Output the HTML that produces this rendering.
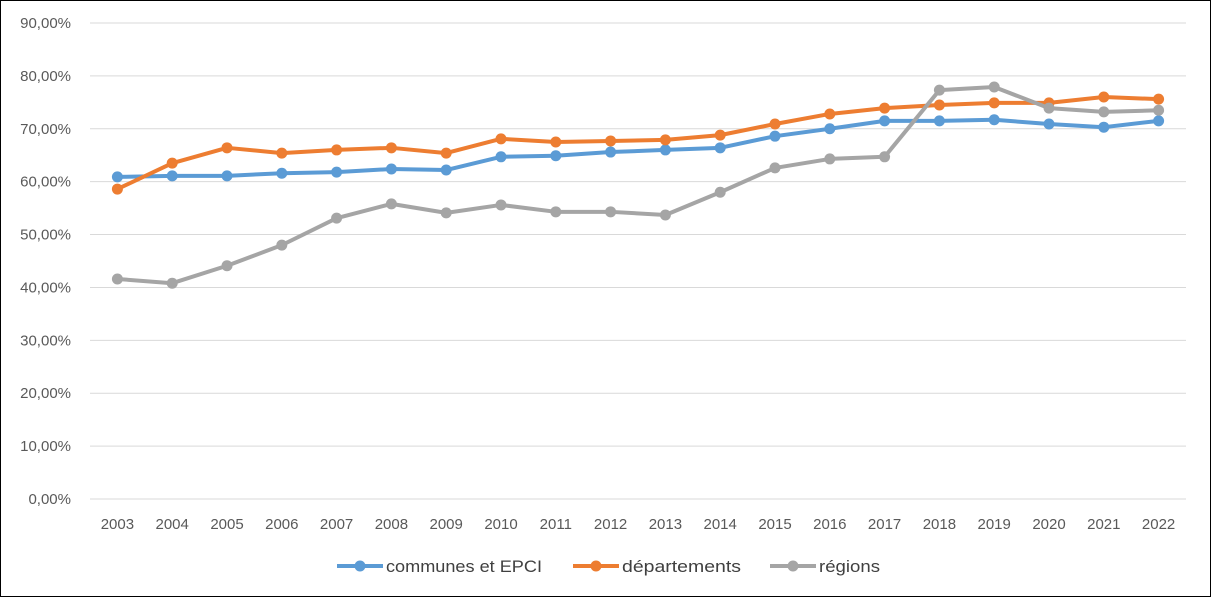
<!DOCTYPE html>
<html><head><meta charset="utf-8"><style>
body{margin:0;background:#fff;font-family:"Liberation Sans",sans-serif}
#wrap{position:relative;width:1211px;height:597px;box-sizing:border-box;border:1px solid #000}
</style></head><body>
<div id="wrap">
<svg id="chart" width="1209" height="595"></svg>
</div>
<script>
const categories=["2003","2004","2005","2006","2007","2008","2009","2010","2011","2012","2013","2014","2015","2016","2017","2018","2019","2020","2021","2022"];
const communes=[60.9,61.1,61.1,61.6,61.8,62.4,62.2,64.7,64.9,65.6,66.0,66.4,68.6,70.0,71.5,71.5,71.7,70.9,70.3,71.5];
const departements=[58.6,63.5,66.4,65.4,66.0,66.4,65.4,68.1,67.5,67.7,67.9,68.8,70.9,72.8,73.9,74.5,74.9,74.9,76.0,75.6];
const regions=[41.6,40.8,44.1,48.0,53.1,55.8,54.1,55.6,54.3,54.3,53.7,58.0,62.6,64.3,64.7,77.3,77.9,73.9,73.2,73.5];
const yTicks=[0,10,20,30,40,50,60,70,80,90];
const seriesNames=["communes et EPCI","départements","régions"];
const colors=["#5B9BD5","#ED7D31","#A5A5A5"];
const NS="http://www.w3.org/2000/svg";
const svg=document.getElementById('chart');
const x0=89,x1=1185,yTop=22,yBot=498;
const xs=i=>x0+(x1-x0)/categories.length*(i+0.5);
const ys=v=>yBot-(v/90)*(yBot-yTop);
function mk(t,a,p){const e=document.createElementNS(NS,t);for(const k in a)e.setAttribute(k,a[k]);(p||svg).appendChild(e);return e;}
yTicks.forEach(t=>{
 const g=mk('line',{x1:x0,x2:x1,y1:ys(t),y2:ys(t),stroke:'#d9d9d9','stroke-width':1});
 
 
 const l=mk('text',{x:70,y:ys(t)+5,'text-anchor':'end','font-size':15,fill:'#595959'});
 l.textContent=t.toFixed(2).replace('.',',')+'%';
 
 
});
categories.forEach((c,i)=>{
 const l=mk('text',{x:xs(i),y:528,'text-anchor':'middle','font-size':15,fill:'#595959'});
 l.textContent=c;
 
 
});
[communes,departements,regions].forEach((d,s)=>{
 const g=mk('g',{});
 
 
 mk('polyline',{points:d.map((v,i)=>xs(i)+','+ys(v)).join(' '),fill:'none',stroke:colors[s],'stroke-width':4,'stroke-linejoin':'round'},g);
 d.forEach((v,i)=>{
  const c=mk('circle',{cx:xs(i),cy:ys(v),r:5.5,fill:colors[s]},g);
  
  
 });
});
const lx=[336,572,769];
const lw=[156,119,61];
seriesNames.forEach((n,s)=>{
 const g=mk('g',{});
 
 
 mk('line',{x1:lx[s],x2:lx[s]+46,y1:565,y2:565,stroke:colors[s],'stroke-width':4},g);
 mk('circle',{cx:lx[s]+23,cy:565,r:5.5,fill:colors[s]},g);
 const t=mk('text',{x:lx[s]+49,y:571,'font-size':17,fill:'#404040',textLength:lw[s],lengthAdjust:'spacingAndGlyphs'},g);
 t.textContent=n;
});
</script>
</body></html>
